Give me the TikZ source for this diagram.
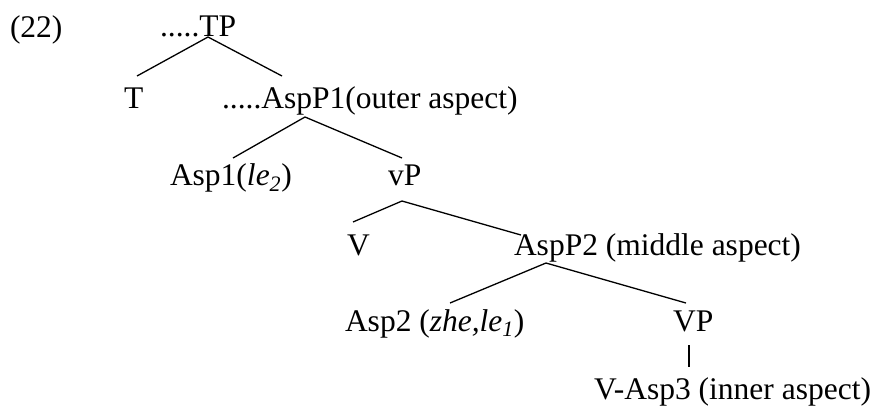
\documentclass[tikz,border=0pt]{standalone}
\usepackage{fontspec}
\setmainfont{Liberation Serif}
\begin{document}
\begin{tikzpicture}[x=1pt,y=-1pt,
  lbl/.style={anchor=base west,inner sep=0pt,outer sep=0pt,font=\fontsize{31.5}{36}\selectfont},
  edge/.style={line width=1.3pt}]
\useasboundingbox (0,0) rectangle (886,410);
\node[lbl] (n22) at (10,37) {(22)};
\node[lbl] (tp) at (160,36) {.....TP};
\node[lbl] (t) at (124,108) {T};
\node[lbl] (asp1p) at (222,108) {.....AspP1(outer aspect)};
\node[lbl] (asp1) at (170,185) {Asp1(\textit{le\textsubscript{2}})};
\node[lbl] (vp) at (388,185) {vP};
\node[lbl] (v) at (347,255) {V};
\node[lbl] (asp2p) at (514,255) {AspP2 (middle aspect)};
\node[lbl] (asp2) at (345,331) {Asp2 (\textit{zhe,le\textsubscript{1}})};
\node[lbl] (VP) at (673,331) {VP};
\node[lbl] (vasp3) at (594,399) {V-Asp3 (inner aspect)};
% TP
\draw[edge] ([shift={(13,-32)}]t.base west) -- ([shift={(48,1)}]tp.base west) -- ([shift={(60,-32)}]asp1p.base west);
% AspP1
\draw[edge] ([shift={(63,-27)}]asp1.base west) -- ([shift={(83,9)}]asp1p.base west) -- ([shift={(14,-27)}]vp.base west);
% vP
\draw[edge] ([shift={(6,-33)}]v.base west) -- ([shift={(14,16)}]vp.base west) -- ([shift={(7,-20)}]asp2p.base west);
% AspP2
\draw[edge] ([shift={(105,-28)}]asp2.base west) -- ([shift={(32,8)}]asp2p.base west) -- ([shift={(13,-28)}]VP.base west);
% VP
\draw[edge,shorten >=10pt] ([shift={(16,14)}]VP.base west) -- ([xshift=16pt]VP.base west |- vasp3.north);
\end{tikzpicture}
\end{document}
